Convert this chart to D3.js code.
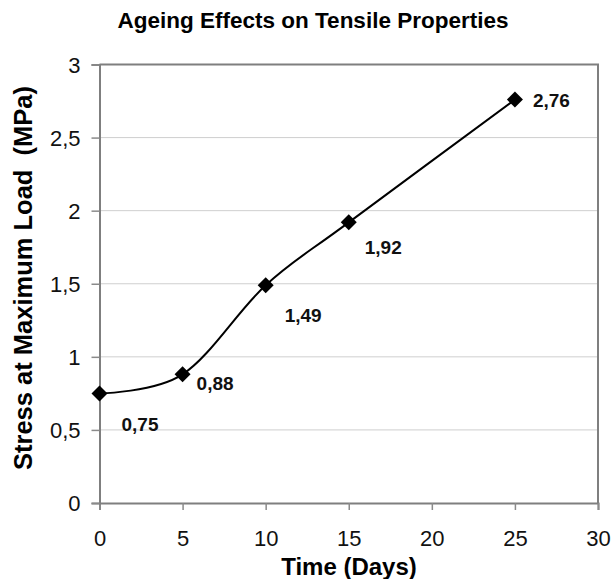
<!DOCTYPE html>
<html>
<head>
<meta charset="utf-8">
<script src="https://cdn.jsdelivr.net/npm/d3@7"></script>
<style>
  html, body { margin: 0; padding: 0; background: #fff; }
  svg { display: block; font-family: "Liberation Sans", Arial, sans-serif; }
</style>
</head>
<body>
<svg id="chart" width="613" height="579"></svg>
<script>
// Stress at maximum load measured after ageing
const days = [0, 5, 10, 15, 25];
const stress = [0.75, 0.88, 1.49, 1.92, 2.76];
const valueLabels = ["0,75", "0,88", "1,49", "1,92", "2,76"];

const xTicks = [0, 5, 10, 15, 20, 25, 30];
const yTicks = [0, 0.5, 1, 1.5, 2, 2.5, 3];
const yTickLabels = ["0", "0,5", "1", "1,5", "2", "2,5", "3"];

// Pixel nudges for each value label, measured from its marker
const labelDx = [22, 14, 19, 16, 18];
const labelDy = [38, 16, 37, 32, 7];

const svg = d3.select("#chart");
const plotLeft = 99.5, plotRight = 598, plotTop = 64.5, plotBottom = 503;

const x = d3.scaleLinear().domain([0, 30]).range([plotLeft, plotRight]);
const y = d3.scaleLinear().domain([0, 3]).range([plotBottom, plotTop]);

// Title
svg.append("text")
  .attr("x", 313).attr("y", 28)
  .attr("text-anchor", "middle")
  .style("font-size", "22.5px").style("font-weight", "bold")
  .text("Ageing Effects on Tensile Properties");

// Horizontal gridlines
svg.append("g").selectAll("line")
  .data(yTicks.filter(d => d > 0 && d < 3))
  .join("line")
  .attr("x1", plotLeft).attr("x2", plotRight)
  .attr("y1", d => y(d)).attr("y2", d => y(d))
  .attr("stroke", "#cfcfcf").attr("stroke-width", 1);

// Frame on top and right
svg.append("path")
  .attr("d", `M${plotLeft},${plotTop}H${plotRight}V${plotBottom}`)
  .attr("fill", "none").attr("stroke", "#7f7f7f").attr("stroke-width", 2);

// Axes
const xAxis = d3.axisBottom(x).tickValues(xTicks).tickSize(7).tickPadding(20)
  .tickFormat(d => String(d));
const yAxis = d3.axisLeft(y).tickValues(yTicks).tickSize(8).tickPadding(11)
  .tickFormat((d, i) => yTickLabels[i]);

const gx = svg.append("g").attr("transform", `translate(0,${plotBottom})`).call(xAxis);
const gy = svg.append("g").attr("transform", `translate(${plotLeft},0)`).call(yAxis);

[gx, gy].forEach(g => {
  g.select(".domain").attr("stroke", "#7f7f7f").attr("stroke-width", 2);
  g.selectAll(".tick line").attr("stroke", "#8a8a8a").attr("stroke-width", 1.5);
  g.selectAll(".tick text")
    .attr("fill", "#111")
    .style("font-size", "22px")
    .style("font-family", "'Liberation Sans', Arial, sans-serif");
});
gy.selectAll(".tick text").attr("dy", "0.36em");

// Axis titles
svg.append("text")
  .attr("x", 349).attr("y", 575)
  .attr("text-anchor", "middle")
  .style("font-size", "24px").style("font-weight", "bold")
  .text("Time (Days)");

svg.append("text")
  .attr("transform", "translate(32,278) rotate(-90)")
  .attr("text-anchor", "middle")
  .style("white-space", "pre")
  .style("font-size", "25.5px").style("font-weight", "bold")
  .text("Stress at Maximum Load  (MPa)");

// Smoothed series line
const pts = days.map((d, i) => [d, stress[i]]);
const line = d3.line()
  .x(d => x(d[0])).y(d => y(d[1]))
  .curve(d3.curveCatmullRom.alpha(0));

svg.append("path")
  .datum(pts)
  .attr("d", line)
  .attr("fill", "none")
  .attr("stroke", "#000")
  .attr("stroke-width", 2);

// Diamond markers
const half = 8;
svg.append("g").selectAll("path")
  .data(pts)
  .join("path")
  .attr("d", d => {
    const cx = x(d[0]), cy = y(d[1]);
    return `M${cx},${cy - half}L${cx + half},${cy}L${cx},${cy + half}L${cx - half},${cy}Z`;
  })
  .attr("fill", "#000");

// Value labels
svg.append("g").selectAll("text")
  .data(pts)
  .join("text")
  .attr("x", (d, i) => x(d[0]) + labelDx[i])
  .attr("y", (d, i) => y(d[1]) + labelDy[i])
  .style("font-size", "19px").style("font-weight", "bold")
  .attr("fill", "#111")
  .text((d, i) => valueLabels[i]);
</script>
</body>
</html>
